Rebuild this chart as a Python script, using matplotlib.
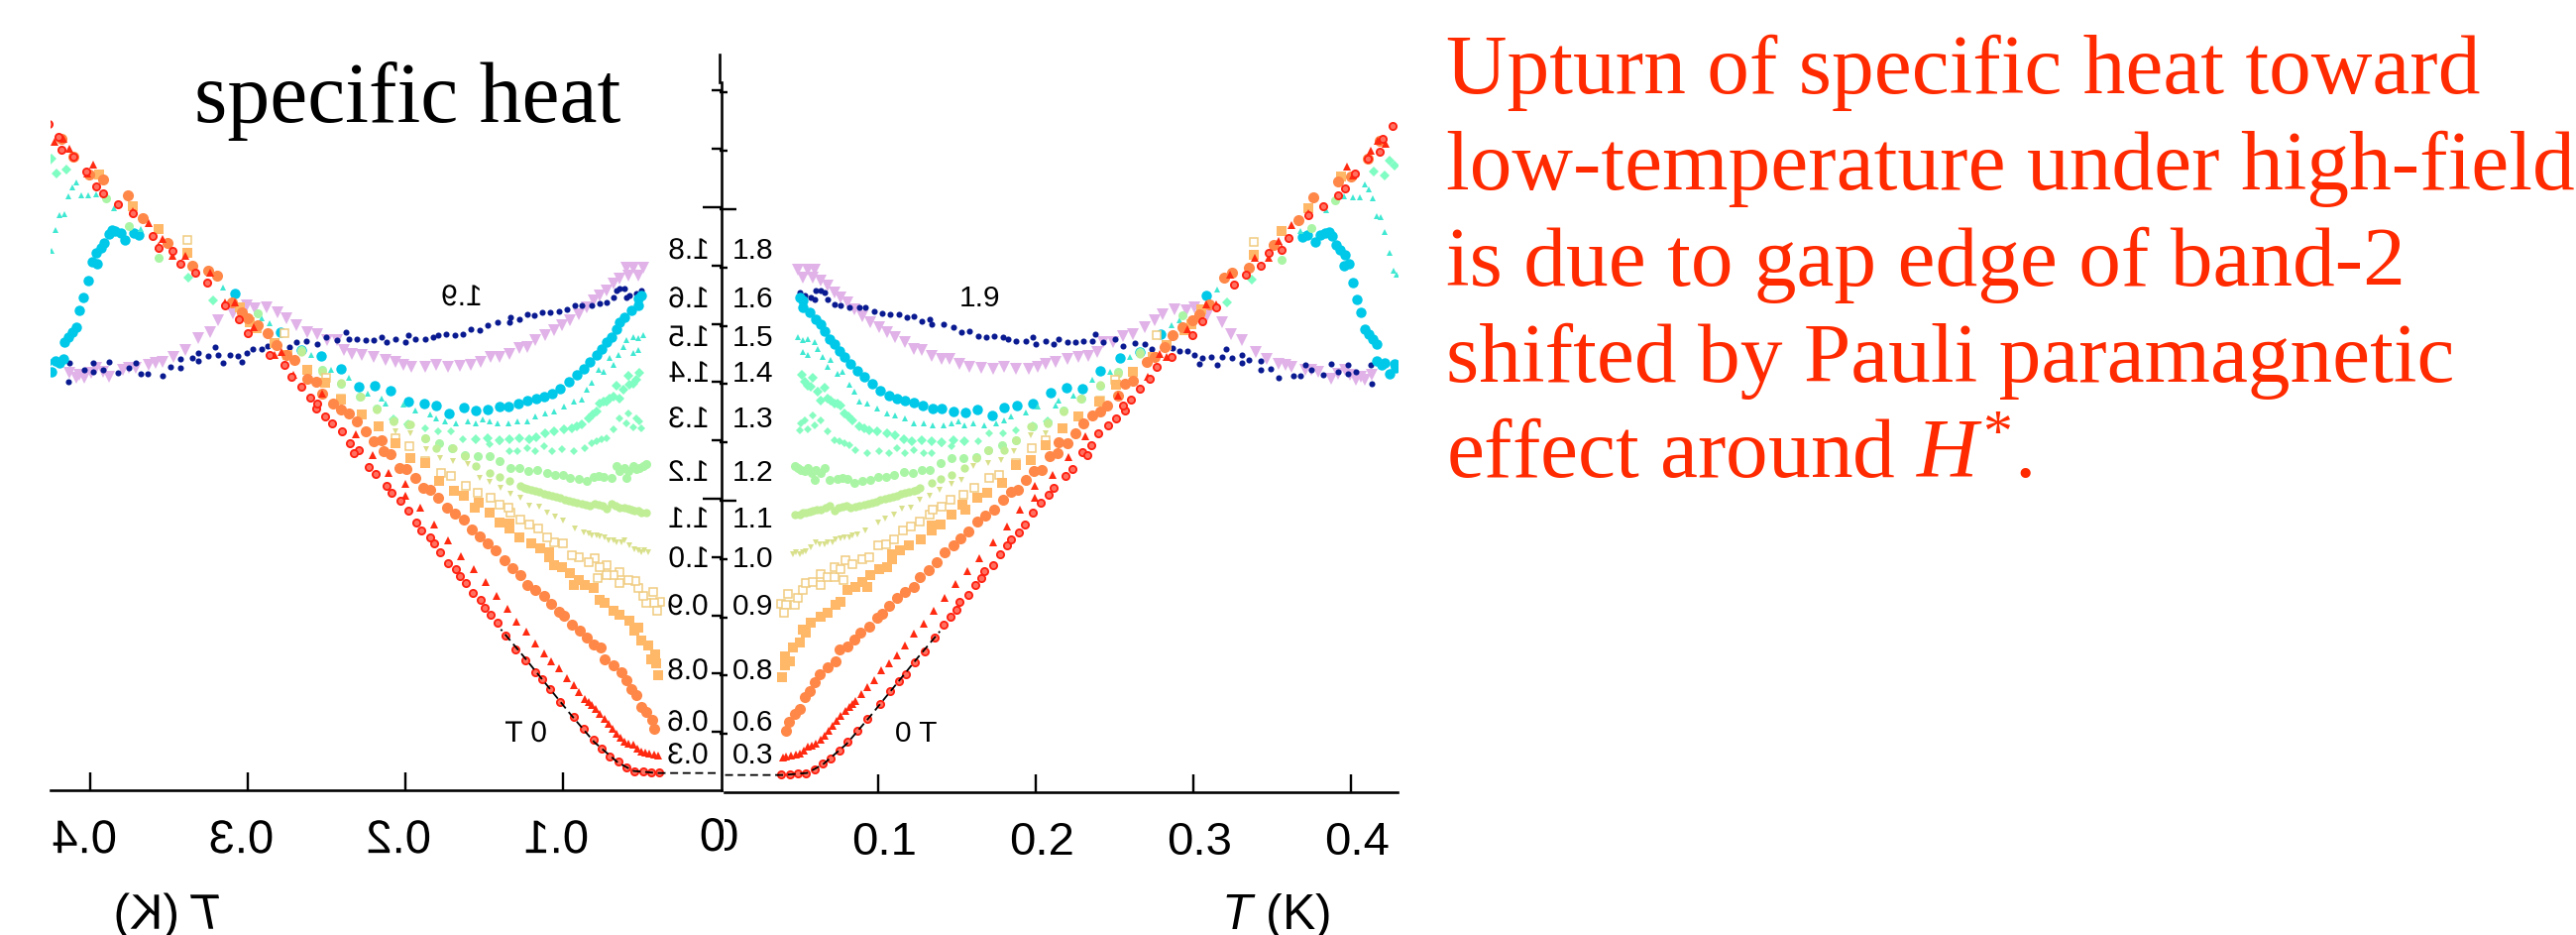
import matplotlib
matplotlib.use('Agg')
import matplotlib.pyplot as plt
from matplotlib.patheffects import AbstractPathEffect
from matplotlib.transforms import Affine2D, Bbox

plt.rcParams['font.family'] = ['Liberation Sans']
plt.rcParams['mathtext.fontset'] = 'custom'
plt.rcParams['mathtext.rm'] = 'Liberation Serif'
plt.rcParams['mathtext.it'] = 'Liberation Serif:italic'
plt.rcParams['mathtext.sf'] = 'Liberation Sans:italic'

# data (the left one is its mirror image)
t_00 = [.0387,.044,.0492,.0544,.0597,.0649,.0702,.0754,.0806,.0869,.0932,.1016,.1079,.1131,.1177,.1236,.1299,.1362,.1414,.146,.1498,.1519,.1571,.1617,.1655,.1676,.1729,.1777,.1819,.1844,.1896,.1932,.198,.2033,.2085,.2116,.219,.2232,.2295,.2326,.2351,.2399,.2462,.2511,.2567,.2557,.2603,.2661,.2724,.2766,.286,.2997,.3055,.3143,.3259,.3332,.3426,.3479,.3563,.3604,.373,.3825,.3919,.3961,.4024,.4108,.4181,.4202,.4265]
c_00 = [.062,.062,.064,.066,.078,.098,.115,.143,.172,.211,.251,.302,.348,.382,.404,.444,.484,.529,.574,.603,.625,.654,.676,.71,.733,.758,.778,.815,.847,.869,.892,.92,.958,.994,1.022,1.045,1.085,1.11,1.166,1.158,1.192,1.232,1.26,1.283,1.308,1.325,1.348,1.385,1.419,1.459,1.493,1.567,1.616,1.664,1.741,1.777,1.805,1.851,1.862,1.902,1.981,2.009,2.049,2.072,2.123,2.174,2.197,2.242,2.285]
t_03 = [.0398,.0419,.045,.0477,.0502,.0528,.0555,.0582,.0607,.0634,.066,.0687,.0712,.0737,.0764,.0792,.0817,.0838,.0859,.0896,.0932,.0974,.1022,.1073,.1121,.1173,.123,.1293,.1351,.142,.1492,.1567,.1645,.1729,.1817,.1903,.1997,.1997,.2106,.2206,.2315,.2525,.2787,.2712,.2831,.2963,.3081,.3143,.3235,.3393,.3477,.3542,.3563,.3625,.373,.3977,.4016,.4128,.4170,.4223]
c_03 = [.118,.121,.126,.13,.134,.143,.155,.16,.166,.179,.194,.212,.228,.245,.262,.279,.291,.302,.314,.336,.361,.384,.418,.441,.47,.504,.543,.578,.622,.668,.715,.758,.803,.856,.912,.971,1.011,1.051,1.09,1.15,1.221,1.36,1.505,1.424,1.493,1.59,1.675,1.675,1.777,1.834,1.834,1.89,1.868,1.947,1.988,2.145,2.115,2.202,2.236,2.225]
t_06 = [.0419,.0435,.0471,.0502,.0534,.0565,.0597,.0628,.0681,.0733,.0758,.0806,.0848,.089,.0943,.0995,.1026,.1073,.1121,.1173,.1226,.1267,.132,.1372,.1425,.1477,.1525,.1576,.163,.1682,.1735,.1791,.1844,.1886,.1938,.1991,.2037,.2091,.2137,.2148,.22,.2253,.2305,.2357,.241,.2456,.2525,.2567,.2619,.2703,.2756,.2818,.2871,.2934,.2997,.3039,.3101,.3196,.3248,.3353,.351,.3667,.3762,.3919,.4003,.4108,.4181]
c_06 = [.2115,.24,.268,.285,.325,.348,.376,.404,.427,.45,.489,.501,.523,.546,.569,.597,.611,.64,.665,.688,.705,.737,.761,.788,.822,.847,.871,.894,.928,.949,.971,1.005,1.03,1.037,1.071,1.102,1.107,1.153,1.164,1.2,1.198,1.232,1.266,1.291,1.306,1.328,1.362,1.402,1.411,1.476,1.493,1.527,1.567,1.595,1.618,1.641,1.675,1.766,1.783,1.8,1.879,1.964,2.04,2.095,2.112,2.174,2.236]
t_08 = [.0393,.0408,.044,.0412,.046,.0502,.0523,.0544,.0576,.0639,.0681,.0733,.0764,.0806,.0859,.0932,.0901,.0953,.1005,.1058,.1089,.1089,.1142,.1198,.1274,.1341,.14,.1341,.1467,.1534,.1557,.1628,.1693,.1785,.1875,.197,.2064,.2169,.2274,.2406,.2511,.2619,.2745,.2829,.2944,.2986,.3049,.3384,.3563,.373,.394]
c_08 = [.393,.436,.45,.467,.495,.512,.557,.546,.58,.603,.614,.642,.654,.693,.705,.705,.722,.744,.767,.773,.801,.818,.83,.847,.867,.898,.92,.915,.951,.985,.968,1.011,1.026,1.062,1.124,1.141,1.192,1.247,1.289,1.34,1.397,1.442,1.493,1.533,1.584,1.606,1.658,1.845,1.924,2.004,2.112]
t_09 = [.0383,.0419,.0404,.0429,.0471,.0492,.0523,.054,.0586,.0639,.0639,.0681,.0723,.0723,.0779,.0764,.0796,.0838,.0901,.0943,.1001,.1054,.11,.1156,.1211,.1267,.133,.1345,.1404,.146,.154,.1613,.1708,.177,.1875,.1976,.2064,.241,.2504,.2619,.2766,.3384]
c_09 = [.645,.642,.614,.679,.642,.667,.693,.716,.722,.71,.75,.739,.773,.739,.727,.767,.795,.784,.801,.807,.847,.852,.869,.898,.912,.928,.951,.971,.979,1.005,1.022,1.045,1.079,1.09,1.13,1.181,1.209,1.345,1.414,1.442,1.567,1.888]
t_10 = [.046,.0481,.0502,.0523,.0544,.0576,.0607,.0628,.066,.0681,.0712,.0733,.0764,.0785,.0817,.0838,.0869,.0922,.1001,.1048,.11,.1152,.1211,.1267,.133,.1393,.1467,.1529,.1603,.1697,.1781,.1865,.197,.2064]
c_10 = [.815,.822,.818,.824,.826,.841,.858,.852,.849,.858,.858,.867,.871,.875,.875,.881,.883,.898,.924,.94,.954,.974,.977,1.005,1.017,1.039,1.059,1.073,1.119,1.13,1.141,1.17,1.226,1.232]
t_11 = [.0471,.0502,.0523,.0544,.0565,.0586,.0611,.0639,.0666,.0691,.0723,.075,.0775,.08,.0827,.0855,.088,.0911,.0938,.0964,.0989,.1016,.1043,.1068,.1093,.1121,.1148,.1173,.1198,.1226,.1247,.1267,.1341,.14,.1467,.155,.1624,.1697,.1802,.1875,.197,.2074,.2179,.2284,.241,.2525,.2661]
c_11 = [.951,.954,.958,.96,.962,.966,.971,.971,.976,.983,.966,.977,.98,.983,.977,.98,.983,.985,.991,.994,.998,1.003,1.008,1.011,1.014,1.017,1.023,1.028,1.03,1.034,1.039,1.045,1.062,1.076,1.09,1.113,1.147,1.175,1.175,1.209,1.255,1.266,1.306,1.351,1.397,1.436,1.504]
t_12 = [.0471,.0492,.0513,.0534,.0555,.0582,.0607,.0597,.0639,.066,.0691,.0743,.0775,.0806,.0848,.0901,.0953,.1001,.1052,.11,.1163,.122,.1278,.133,.14,.1467,.154,.1624,.1701,.1785,.1875,.198,.2074,.2179,.2288,.241,.2525,.2661,.2934,.3563,.3751,.3898]
c_12 = [1.119,1.113,1.107,1.102,1.113,1.096,1.107,1.073,1.096,1.113,1.073,1.076,1.077,1.076,1.062,1.068,1.073,1.081,1.082,1.087,1.098,1.096,1.107,1.105,1.13,1.147,1.147,1.15,1.172,1.192,1.209,1.255,1.268,1.311,1.351,1.394,1.442,1.51,1.635,1.825,1.936,2.032]
t_13 = [.0502,.0513,.0534,.0555,.0586,.0597,.0639,.0681,.0723,.0754,.0785,.0817,.0859,.0932,.1005,.1068,.1121,.1173,.1226,.1289,.1341,.1404,.1467,.155,.1634,.1708,.1791,.1875,.1986]
c_13 = [1.241,1.266,1.277,1.246,1.291,1.26,1.277,1.238,1.209,1.204,1.198,1.192,1.175,1.164,1.17,1.164,1.181,1.164,1.175,1.164,1.164,1.198,1.187,1.204,1.204,1.232,1.232,1.243,1.255]
t_14 = [.0517,.0534,.0555,.0576,.0586,.0618,.0639,.066,.0681,.0702,.0723,.0743,.0764,.0785,.0813,.0838,.088,.0911,.0943,.0995,.1058,.111,.1167,.1215,.1278,.1341,.1404,.1477,.155,.198,.2074,.3217,.3374,.4149,.4212,.4244,.4275]
c_14 = [1.431,1.408,1.396,1.391,1.423,1.374,1.345,1.389,1.351,1.343,1.334,1.332,1.325,1.3,1.289,1.277,1.255,1.249,1.243,1.238,1.23,1.223,1.212,1.204,1.207,1.204,1.2,1.209,1.204,1.255,1.272,1.681,1.757,2.129,2.117,2.168,2.151]
t_15 = [.0492,.0523,.0555,.0597,.0523,.0555,.0618,.0649,.0702,.0681,.0743,.0775,.0817,.0848,.088,.0932,.0995,.1058,.111,.1173,.1226,.1289,.1347,.1414,.1467,.1509,.155,.1603,.1676,.1749,.1802,.1844,.1938,.2012,.2127,.2148,.2238,.2357,.2473,.2598,.286,.2913,.3154,.3678,.3846,.396,.4013,.4055,.4087,.4114,.4139,.4164,.4191,.4216,.4244,.4271,.4292]
c_15 = [1.561,1.552,1.555,1.544,1.51,1.499,1.521,1.493,1.482,1.459,1.436,1.442,1.397,1.374,1.34,1.334,1.317,1.3,1.292,1.283,1.266,1.266,1.26,1.257,1.264,1.272,1.26,1.264,1.26,1.266,1.275,1.289,1.302,1.323,1.328,1.345,1.362,1.414,1.443,1.493,1.601,1.618,1.726,1.924,1.998,2.043,2.04,2.04,2.085,2.068,2.038,1.975,1.972,1.922,1.851,1.79,1.774]
t_16 = [.0502,.0523,.0523,.0565,.0607,.0639,.066,.0691,.0723,.0754,.0785,.0827,.0869,.0911,.0964,.1016,.1068,.1121,.1169,.1226,.1282,.1345,.1404,.1479,.1553,.1628,.1722,.1802,.1879,.1982,.2095,.2196,.2297,.241,.2536,.2661,.2793,.308,.3692,.3724,.3776,.3804,.384,.386,.3881,.3908,.3929,.3961,.3986,.3957,.4011,.404,.4066,.4087,.4114,.4139,.4164,.4166,.4196,.4217,.4275,.4246,.4286]
c_16 = [1.697,1.686,1.663,1.646,1.623,1.606,1.583,1.555,1.538,1.515,1.493,1.47,1.447,1.425,1.402,1.379,1.362,1.351,1.345,1.337,1.328,1.317,1.317,1.306,1.302,1.314,1.294,1.319,1.328,1.334,1.37,1.388,1.385,1.447,1.49,1.51,1.573,1.703,1.904,1.911,1.887,1.913,1.919,1.922,1.907,1.879,1.859,1.843,1.813,1.805,1.749,1.689,1.647,1.59,1.571,1.556,1.537,1.48,1.465,1.473,1.471,1.437,1.457]
t_18 = [.0492,.0523,.0555,.0597,.0586,.0639,.0681,.0723,.0764,.0806,.0848,.0901,.0953,.1005,.1058,.111,.1173,.1226,.1278,.1341,.1404,.1456,.1519,.1582,.1655,.1729,.1802,.1875,.1959,.2012,.2064,.2127,.22,.2274,.2336,.2389,.2431,.2494,.2557,.2619,.2693,.2756,.2808,.2881,.2955,.3007,.3091,.3185,.3238,.3311,.3395,.3468,.3542,.3584,.3625,.3709,.3751,.3793,.3877,.3919,.3961,.3992,.4034,.4066,.4087,.4133]
c_18 = [1.793,1.765,1.793,1.793,1.765,1.754,1.737,1.714,1.697,1.68,1.657,1.634,1.612,1.595,1.578,1.561,1.544,1.521,1.518,1.498,1.487,1.487,1.468,1.459,1.456,1.453,1.459,1.453,1.453,1.459,1.47,1.476,1.487,1.493,1.498,1.51,1.544,1.544,1.566,1.572,1.595,1.618,1.641,1.658,1.652,1.664,1.635,1.613,1.573,1.55,1.51,1.488,1.471,1.465,1.46,1.448,1.448,1.442,1.42,1.437,1.448,1.431,1.414,1.425,1.414,1.431]
t_19 = [.0502,.0534,.0576,.0607,.0639,.066,.0597,.0681,.0723,.0764,.0817,.088,.0922,.0974,.1026,.1079,.1131,.1184,.1226,.1278,.133,.1341,.1414,.1477,.1529,.1582,.1634,.1687,.1739,.1791,.1823,.1875,.1938,.198,.2001,.2064,.2116,.2148,.22,.2253,.2305,.2357,.2378,.2431,.2504,.2557,.263,.2693,.2735,.2661,.2871,.2913,.2965,.3007,.3039,.306,.3112,.3154,.3206,.3185,.3248,.3311,.3311,.3353,.3426,.3426,.3489,.3542,.3636,.3678,.3709,.3751,.3825,.3877,.3919,.3982,.3982,.4034,.4128,.4135]
c_19 = [1.714,1.703,1.697,1.72,1.72,1.714,1.691,1.691,1.674,1.669,1.663,1.663,1.663,1.651,1.642,1.64,1.638,1.629,1.631,1.617,1.623,1.606,1.606,1.595,1.578,1.581,1.566,1.561,1.566,1.561,1.555,1.549,1.549,1.561,1.536,1.549,1.538,1.555,1.544,1.544,1.549,1.549,1.572,1.544,1.555,1.53,1.541,1.539,1.522,1.507,1.525,1.514,1.514,1.499,1.471,1.491,1.493,1.465,1.522,1.493,1.491,1.499,1.473,1.482,1.48,1.45,1.454,1.423,1.428,1.428,1.465,1.448,1.431,1.471,1.442,1.465,1.437,1.442,1.465,1.403]
t_fit = [.003,.04,.055,.065,.08,.095,.11,.125,.1393]
c_fit = [.059,.059,.066,.095,.165,.26,.36,.46,.552]

field_labels = ['1.8', '1.6', '1.5', '1.4', '1.3', '1.2', '1.1', '1.0', '0.9', '0.8', '0.6', '0.3']
t_ticks = [0.1, 0.2, 0.3, 0.4]
t_tick_labels = ['0.1', '0.2', '0.3', '0.4']
major_ticks = [1, 2]
minor_ticks = [.2, .4, .6, .8, 1.2, 1.4, 1.6, 1.8, 2.2, 2.4]
note_lines = ['Upturn of specific heat toward', 'low-temperature under high-field',
              'is due to gap edge of band-2', 'shifted by Pauli paramagnetic',
              r'effect around $\mathit{H}^{\mathrm{*}}$.']

# drawn back to front
series = [
    (t_18, c_18, dict(marker='v', ms=8, color='#E0B2E8', mew=0)),
    (t_19, c_19, dict(marker='o', ms=4.4, color='#0A1A90', mew=0)),
    (t_16, c_16, dict(marker='o', ms=7.5, color='#00C8E8', mew=0)),
    (t_15, c_15, dict(marker='^', ms=4.4, color='#40E8D2', mew=0)),
    (t_14, c_14, dict(marker='D', ms=4.8, color='#80FDC2', mew=0)),
    (t_13, c_13, dict(marker='D', ms=3.6, color='#88FCC0', mew=0)),
    (t_12, c_12, dict(marker='o', ms=6.5, color='#AAF5A5', mew=0)),
    (t_11, c_11, dict(marker='o', ms=6, color='#C0EE96', mew=0)),
    (t_10, c_10, dict(marker='v', ms=4.8, color='#D9E08C', mew=0)),
    (t_09, c_09, dict(marker='s', ms=5.5, color='#F0CC80', mfc='white', mew=1.1)),
    (t_08, c_08, dict(marker='s', ms=7.5, color='#FFB868', mew=0)),
    (t_06, c_06, dict(marker='o', ms=8, color='#FF8848', mew=0)),
    (t_03, c_03, dict(marker='^', ms=6.2, color='#FF2A10', mew=0)),
    (t_00, c_00, dict(marker='o', ms=5.2, color='#FF2010', mfc='#FF7060', mew=1.3)),
]

W, H = 2599, 943
PT = 0.72  # points per pixel at dpi 100
UNIT = 294.0  # pixels per unit of C
ZERO_X = 726.8
PX_T = 1590.0


class Mirror(AbstractPathEffect):
    # flips a text left to right around its own centre
    def draw_path(self, renderer, gc, tpath, affine, rgbFace=None):
        box = tpath.get_extents(affine)
        cx = (box.x0 + box.x1) / 2
        flip = Affine2D().translate(-cx, 0).scale(-1, 1).translate(cx, 0)
        renderer.draw_path(gc, tpath, affine + flip, rgbFace)


def fx(x):
    return x / W


def fy(y):
    return 1 - y / H


def add_panel(x0, x1, y_base, y_top):
    ax = fig.add_axes([fx(x0), fy(y_base), (x1 - x0) / W, (y_base - y_top) / H])
    ax.patch.set_alpha(0)
    ax.set_ylim(0, (y_base - y_top) / UNIT)
    for s in ['top', 'left', 'right', 'bottom']:
        ax.spines[s].set_visible(False)
        ax.spines[s].set_linewidth(2.6 * PT)
    ax.spines['bottom'].set_visible(True)
    for t, c, st in series:
        ax.plot(t, c, ls='none', **st)
    ax.plot(t_fit, c_fit, color='black', lw=1.3, dashes=(4.4, 2.6))
    ax.set_xticks(t_ticks)
    ax.set_xticklabels(t_tick_labels, fontsize=34)
    ax.set_yticks(major_ticks)
    ax.set_yticks(minor_ticks, minor=True)
    ax.tick_params(axis='x', direction='in', length=18 * PT, width=2.4 * PT, pad=21)
    ax.tick_params(axis='y', which='both', labelleft=False, labelright=False, width=2.4 * PT)
    return ax


fig = plt.figure(figsize=(W / 100, H / 100), dpi=100, facecolor='white')

# left panel, mirrored
axl = add_panel(51, 728, 797, 55)
axl.set_xlim((ZERO_X - 51) / PX_T, (ZERO_X - 728) / PX_T)
axl.spines['right'].set_visible(True)
axl.spines['right'].set_bounds(0, (797 - 83) / UNIT)
axl.tick_params(axis='y', which='both', left=False, right=True, direction='in')
axl.tick_params(axis='y', which='major', length=19 * PT)
axl.tick_params(axis='y', which='minor', length=10 * PT)
for lab in axl.get_xticklabels():
    lab.set_path_effects([Mirror()])
    lab.set_transform(lab.get_transform() + Affine2D().translate(-6, 0))

# right panel
axr = add_panel(725.5, 1410, 799, 55)
axr.set_xlim((725.5 - ZERO_X) / PX_T, (1410 - ZERO_X) / PX_T)
axr.spines['left'].set_visible(True)
axr.spines['left'].set_bounds((799 - 83) / UNIT, (799 - 55) / UNIT)
axr.spines['bottom'].set_bounds((731 - ZERO_X) / PX_T, (1410 - ZERO_X) / PX_T)
axr.tick_params(axis='y', which='both', left=True, right=False, direction='in')
axr.tick_params(axis='y', which='major', length=16.5 * PT)
axr.tick_params(axis='y', which='minor', length=7.5 * PT)
for lab in axr.get_xticklabels():
    lab.set_transform(lab.get_transform() + Affine2D().translate(6, 0))

# the two zeros run into each other at the fold
z0 = fig.text(fx(719), fy(846), '0', fontsize=34, ha='center', va='center',
              path_effects=[Mirror()], clip_on=True)
z0.set_clip_box(Bbox.from_extents(0, 0, 730, H))
z1 = fig.text(fx(731.5), fy(846), '0', fontsize=34, ha='center', va='center', clip_on=True)
z1.set_clip_box(Bbox.from_extents(731, 0, W, H))

# field labels next to the axis
label_y = [253, 302, 341, 377, 423, 477, 524, 564, 612, 677, 729, 762]
for lab, y in zip(field_labels, label_y):
    fig.text(fx(759.5), fy(y), lab, fontsize=21.5, ha='center', va='center')
    fig.text(fx(694), fy(y), lab, fontsize=21.5, ha='center', va='center', path_effects=[Mirror()])

fig.text(fx(988), fy(301), '1.9', fontsize=21.5, ha='center', va='center')
fig.text(fx(465), fy(300), '1.9', fontsize=21.5, ha='center', va='center', path_effects=[Mirror()])
fig.text(fx(924), fy(740), '0 T', fontsize=21.5, ha='center', va='center')
fig.text(fx(530), fy(740), '0 T', fontsize=21.5, ha='center', va='center', path_effects=[Mirror()])

fig.text(fx(1287), fy(937), r'$\mathsf{T}$ (K)', fontsize=36, ha='center', va='baseline')
fig.text(fx(168), fy(937), r'$\mathsf{T}$ (K)', fontsize=36, ha='center', va='baseline', path_effects=[Mirror()])

fig.text(fx(196), fy(123), 'specific heat', fontsize=61.7, family='Liberation Serif', va='baseline')

note_y = [94, 191, 288, 385, 482]
for line, y in zip(note_lines, note_y):
    fig.text(fx(1459), fy(y), line, fontsize=61.5, family='Liberation Serif', color='#FF2A00', va='baseline')

fig.savefig('out.png', dpi=100)
